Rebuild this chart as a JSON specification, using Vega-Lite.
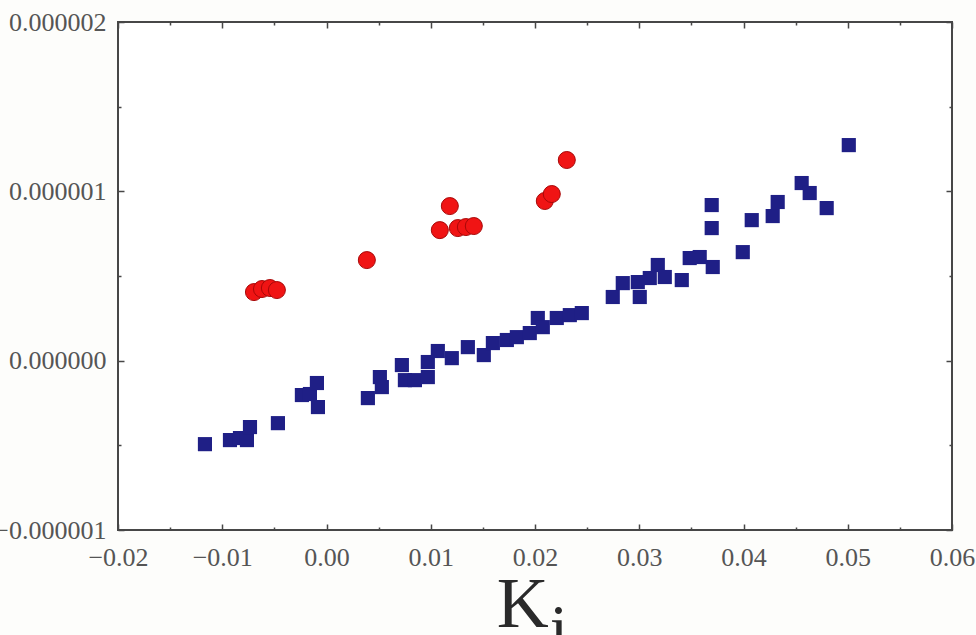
{
  "$schema": "https://vega.github.io/schema/vega-lite/v6.json",
  "width": 834,
  "height": 508,
  "autosize": {"type": "none"},
  "padding": {"left": 118, "top": 22, "right": 24, "bottom": 105},
  "background": "#fdfdfb",
  "config": {
    "view": {"stroke": "#474747", "strokeWidth": 2, "fill": "#ffffff"},
    "font": "Liberation Serif",
    "axis": {
      "domain": false,
      "grid": false,
      "tickColor": "#474747",
      "tickWidth": 1.5,
      "labelFont": "Liberation Serif",
      "labelFontSize": 26,
      "labelColor": "#555555",
      "title": null
    }
  },
  "data": {
    "values": [
      {"set": "B", "k": -0.01166, "v": -4.93e-7},
      {"set": "B", "k": -0.00926, "v": -4.69e-7},
      {"set": "B", "k": -0.00830, "v": -4.57e-7},
      {"set": "B", "k": -0.00763, "v": -4.69e-7},
      {"set": "B", "k": -0.00734, "v": -3.92e-7},
      {"set": "B", "k": -0.00466, "v": -3.69e-7},
      {"set": "B", "k": -0.00236, "v": -2.03e-7},
      {"set": "B", "k": -0.00159, "v": -1.97e-7},
      {"set": "B", "k": -0.00092, "v": -1.32e-7},
      {"set": "B", "k": -0.00082, "v": -2.74e-7},
      {"set": "B", "k": 0.00397, "v": -2.21e-7},
      {"set": "B", "k": 0.00512, "v": -0.97e-7},
      {"set": "B", "k": 0.00531, "v": -1.56e-7},
      {"set": "B", "k": 0.00723, "v": -0.26e-7},
      {"set": "B", "k": 0.00752, "v": -1.15e-7},
      {"set": "B", "k": 0.00848, "v": -1.15e-7},
      {"set": "B", "k": 0.00972, "v": -0.97e-7},
      {"set": "B", "k": 0.00972, "v": -0.08e-7},
      {"set": "B", "k": 0.01068, "v": 0.57e-7},
      {"set": "B", "k": 0.01202, "v": 0.15e-7},
      {"set": "B", "k": 0.01356, "v": 0.80e-7},
      {"set": "B", "k": 0.01509, "v": 0.33e-7},
      {"set": "B", "k": 0.01596, "v": 1.04e-7},
      {"set": "B", "k": 0.01730, "v": 1.22e-7},
      {"set": "B", "k": 0.01826, "v": 1.39e-7},
      {"set": "B", "k": 0.01950, "v": 1.63e-7},
      {"set": "B", "k": 0.02027, "v": 2.52e-7},
      {"set": "B", "k": 0.02075, "v": 1.98e-7},
      {"set": "B", "k": 0.02209, "v": 2.52e-7},
      {"set": "B", "k": 0.02334, "v": 2.69e-7},
      {"set": "B", "k": 0.02449, "v": 2.81e-7},
      {"set": "B", "k": 0.02746, "v": 3.76e-7},
      {"set": "B", "k": 0.02842, "v": 4.58e-7},
      {"set": "B", "k": 0.03005, "v": 3.76e-7},
      {"set": "B", "k": 0.02986, "v": 4.64e-7},
      {"set": "B", "k": 0.03101, "v": 4.88e-7},
      {"set": "B", "k": 0.03178, "v": 5.65e-7},
      {"set": "B", "k": 0.03245, "v": 4.94e-7},
      {"set": "B", "k": 0.03408, "v": 4.76e-7},
      {"set": "B", "k": 0.03484, "v": 6.06e-7},
      {"set": "B", "k": 0.03580, "v": 6.12e-7},
      {"set": "B", "k": 0.03705, "v": 5.53e-7},
      {"set": "B", "k": 0.03695, "v": 9.19e-7},
      {"set": "B", "k": 0.03695, "v": 7.83e-7},
      {"set": "B", "k": 0.03993, "v": 6.41e-7},
      {"set": "B", "k": 0.04079, "v": 8.30e-7},
      {"set": "B", "k": 0.04280, "v": 8.54e-7},
      {"set": "B", "k": 0.04328, "v": 9.37e-7},
      {"set": "B", "k": 0.04558, "v": 1.049e-6},
      {"set": "B", "k": 0.04635, "v": 9.90e-7},
      {"set": "B", "k": 0.04798, "v": 9.01e-7},
      {"set": "B", "k": 0.05010, "v": 1.273e-6},
      {"set": "R", "k": -0.00696, "v": 4.05e-7},
      {"set": "R", "k": -0.00619, "v": 4.23e-7},
      {"set": "R", "k": -0.00543, "v": 4.29e-7},
      {"set": "R", "k": -0.00476, "v": 4.17e-7},
      {"set": "R", "k": 0.00387, "v": 5.94e-7},
      {"set": "R", "k": 0.01087, "v": 7.71e-7},
      {"set": "R", "k": 0.01183, "v": 9.13e-7},
      {"set": "R", "k": 0.01260, "v": 7.83e-7},
      {"set": "R", "k": 0.01337, "v": 7.89e-7},
      {"set": "R", "k": 0.01413, "v": 7.95e-7},
      {"set": "R", "k": 0.02094, "v": 9.43e-7},
      {"set": "R", "k": 0.02161, "v": 9.84e-7},
      {"set": "R", "k": 0.02305, "v": 1.185e-6}
    ]
  },
  "resolve": {"axis": {"x": "independent", "y": "independent"}},
  "layer": [
    {
      "transform": [{"filter": "datum.set === 'B'"}],
      "mark": {"type": "point", "shape": "square", "filled": true, "size": 200, "color": "#1f1f86", "opacity": 1},
      "encoding": {
        "x": {
          "field": "k", "type": "quantitative",
          "scale": {"domain": [-0.02, 0.06], "nice": false, "zero": false},
          "axis": {
            "orient": "bottom",
            "values": [-0.02, -0.015, -0.01, -0.005, 0, 0.005, 0.01, 0.015, 0.02, 0.025, 0.03, 0.035, 0.04, 0.045, 0.05, 0.055, 0.06],
            "labelExpr": "abs(datum.value * 100 - round(datum.value * 100)) < 0.01 ? format(datum.value, '.2f') : ''",
            "tickSize": {"condition": {"test": "abs(datum.value * 100 - round(datum.value * 100)) < 0.01", "value": -6}, "value": -3},
            "labelPadding": 20,
            "labelFlush": false,
            "labelOverlap": false
          }
        },
        "y": {
          "field": "v", "type": "quantitative",
          "scale": {"domain": [-0.000001, 0.000002], "nice": false, "zero": false},
          "axis": {
            "orient": "left",
            "values": [-0.000001, -0.0000005, 0, 0.0000005, 0.000001, 0.0000015, 0.000002],
            "labelExpr": "abs(datum.value * 1000000 - round(datum.value * 1000000)) < 0.01 ? format(datum.value, '.6f') : ''",
            "tickSize": {"condition": {"test": "abs(datum.value * 1000000 - round(datum.value * 1000000)) < 0.01", "value": -6}, "value": -3},
            "labelPadding": 18,
            "labelFlush": false,
            "labelOverlap": false
          }
        }
      }
    },
    {
      "transform": [{"filter": "datum.set === 'R'"}],
      "mark": {"type": "point", "shape": "circle", "filled": true, "size": 290, "color": "#f01414", "stroke": "#a80808", "strokeWidth": 1, "opacity": 1},
      "encoding": {
        "x": {
          "field": "k", "type": "quantitative",
          "axis": {
            "orient": "top",
            "labels": false,
            "values": [-0.02, -0.015, -0.01, -0.005, 0, 0.005, 0.01, 0.015, 0.02, 0.025, 0.03, 0.035, 0.04, 0.045, 0.05, 0.055, 0.06],
            "tickSize": {"condition": {"test": "abs(datum.value * 100 - round(datum.value * 100)) < 0.01", "value": -6}, "value": -3}
          }
        },
        "y": {
          "field": "v", "type": "quantitative",
          "axis": {
            "orient": "right",
            "labels": false,
            "values": [-0.000001, -0.0000005, 0, 0.0000005, 0.000001, 0.0000015, 0.000002],
            "tickSize": {"condition": {"test": "abs(datum.value * 1000000 - round(datum.value * 1000000)) < 0.01", "value": -6}, "value": -3}
          }
        }
      }
    },
    {
      "data": {"values": [{}]},
      "mark": {"type": "text", "text": "K", "align": "left", "baseline": "alphabetic", "fontSize": 72, "font": "Liberation Serif", "color": "#2a2a2a"},
      "encoding": {
        "x": {"datum": 0.01634, "type": "quantitative", "axis": null},
        "y": {"datum": -0.000001574, "type": "quantitative", "axis": null}
      }
    },
    {
      "data": {"values": [{}]},
      "mark": {"type": "text", "text": "i", "align": "left", "baseline": "alphabetic", "fontSize": 66, "font": "Liberation Serif", "color": "#2a2a2a"},
      "encoding": {
        "x": {"datum": 0.02142, "type": "quantitative", "axis": null},
        "y": {"datum": -0.00000171, "type": "quantitative", "axis": null}
      }
    }
  ]
}
